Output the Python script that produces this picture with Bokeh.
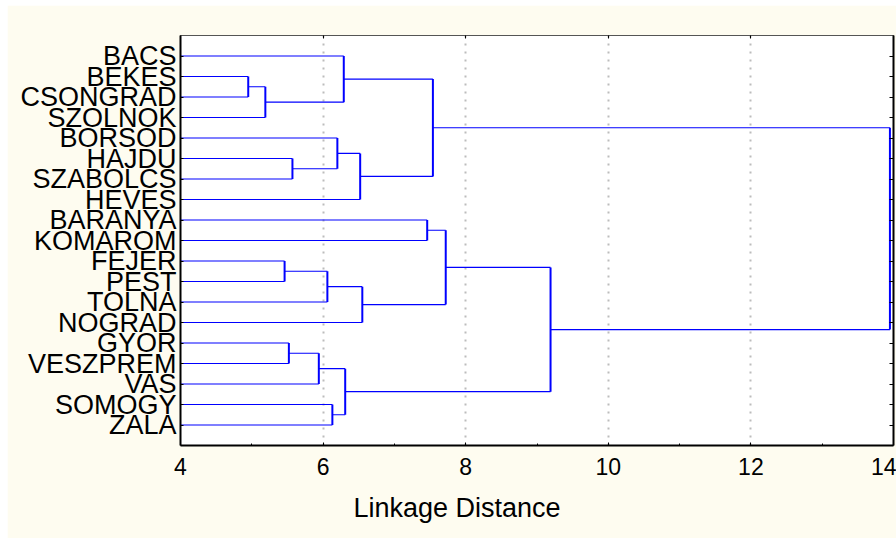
from bokeh.plotting import figure
from bokeh.models import Range1d, LinearAxis, FixedTicker, Title
from bokeh.embed import file_html
from bokeh.resources import INLINE

# ---- data -------------------------------------------------------------
leaves = ["BACS", "BEKES", "CSONGRAD", "SZOLNOK", "BORSOD", "HAJDU", "SZABOLCS",
          "HEVES", "BARANYA", "KOMAROM", "FEJER", "PEST", "TOLNA", "NOGRAD",
          "GYOR", "VESZPREM", "VAS", "SOMOGY", "ZALA"]

# merges m1..m18 : joins node A with node B at the given linkage distance
merge_a = ["BEKES", "m1", "BACS", "HAJDU", "BORSOD", "m5", "m3",
           "BARANYA", "FEJER", "m9", "m10", "m8",
           "GYOR", "m13", "SOMOGY", "m14", "m12", "m7"]
merge_b = ["CSONGRAD", "SZOLNOK", "m2", "SZABOLCS", "m4", "HEVES", "m6",
           "KOMAROM", "PEST", "TOLNA", "NOGRAD", "m11",
           "VESZPREM", "VAS", "ZALA", "m15", "m16", "m17"]
merge_height = [4.95, 5.19, 6.29, 5.57, 6.20, 6.52, 7.54,
                7.46, 5.46, 6.06, 6.55, 7.72,
                5.52, 5.94, 6.13, 6.31, 9.19, 13.95]

x_ticks = [4, 6, 8, 10, 12, 14]
x_minor = [5, 7, 9, 11, 13]
x_title = "Linkage Distance"

# ---- layout of the tree ----------------------------------------------
pos = {}
for i, name in enumerate(leaves):
    pos[name] = (0.0, float(i + 1))   # leaves sit at distance 0

hx0, hx1, hy = [], [], []
vx, vy0, vy1 = [], [], []
for k, (a, b, h) in enumerate(zip(merge_a, merge_b, merge_height)):
    xa, ya = pos[a]
    xb, yb = pos[b]
    hx0 += [xa, xb]; hx1 += [h, h]; hy += [ya, yb]
    vx.append(h); vy0.append(ya); vy1.append(yb)
    pos["m%d" % (k + 1)] = (h, (ya + yb) / 2.0)

FONT = "Liberation Sans"
CREAM = "#FEFCF0"

p = figure(width=889, height=533, output_backend="svg", toolbar_location=None,
           x_range=Range1d(4, 14), y_range=Range1d(20, 0),
           margin=(5, 0, 0, 7),
           min_border_left=173, min_border_right=3, min_border_top=30,
           min_border_bottom=93,
           background_fill_color="white", border_fill_color=CREAM)
p.outline_line_color = None

# grid
p.ygrid.visible = False
p.xgrid.ticker = FixedTicker(ticks=[6, 8, 10, 12])
p.xgrid.grid_line_color = "#bcbcbc"
p.xgrid.grid_line_dash = "2 6"
p.xgrid.grid_line_width = 2

# dendrogram
p.segment(x0=hx0, y0=hy, x1=hx1, y1=hy, line_color="#0000FF", line_width=1.2)
p.segment(x0=vx, y0=vy0, x1=vx, y1=vy1, line_color="#0000FF", line_width=2)

# bottom axis
xa = p.xaxis[0]
xa.ticker = FixedTicker(ticks=x_ticks, minor_ticks=x_minor)
xa.major_tick_in = 3
xa.major_tick_out = 0
xa.minor_tick_in = 2
xa.minor_tick_out = 0
xa.axis_line_width = 2
xa.axis_line_color = "black"
xa.major_tick_line_color = "black"
xa.minor_tick_line_color = "black"
xa.major_label_text_font = FONT
xa.major_label_text_font_size = "23px"
xa.major_label_text_color = "black"
xa.major_label_standoff = 12

# left axis with county names
ya_ = p.yaxis[0]
leaf_pos = list(range(1, len(leaves) + 1))
ya_.ticker = FixedTicker(ticks=leaf_pos)
ya_.major_label_overrides = {i + 1: n for i, n in enumerate(leaves)}
ya_.major_tick_in = 3
ya_.major_tick_out = 0
ya_.minor_tick_in = 0
ya_.minor_tick_out = 0
ya_.axis_line_width = 2
ya_.axis_line_color = "black"
ya_.major_label_text_font = FONT
ya_.major_label_text_font_size = "27px"
ya_.major_label_text_color = "black"
ya_.major_label_standoff = 4

# right axis (ticks only)
ra = LinearAxis(ticker=FixedTicker(ticks=leaf_pos),
                major_tick_in=4, major_tick_out=0,
                minor_tick_in=0, minor_tick_out=0,
                axis_line_width=2, axis_line_color="black",
                major_label_overrides={i: "" for i in leaf_pos},
                major_label_text_font_size="1px", major_label_standoff=0)
p.add_layout(ra, "right")

# top axis (ticks only)
ta = LinearAxis(ticker=FixedTicker(ticks=x_ticks),
                major_tick_in=3, major_tick_out=0,
                minor_tick_in=0, minor_tick_out=0,
                axis_line_width=1, axis_line_color="#555555",
                major_tick_line_color="black",
                major_label_overrides={t: "" for t in x_ticks},
                major_label_text_font_size="1px", major_label_standoff=0)
p.add_layout(ta, "above")

# axis title (off-centre, as in the original)
p.add_layout(Title(text=x_title, align="left", offset=173, standoff=26,
                   text_font=FONT, text_font_size="27px",
                   text_font_style="normal", text_color="black"), "below")

open("out.html", "w").write(file_html(p, INLINE))
